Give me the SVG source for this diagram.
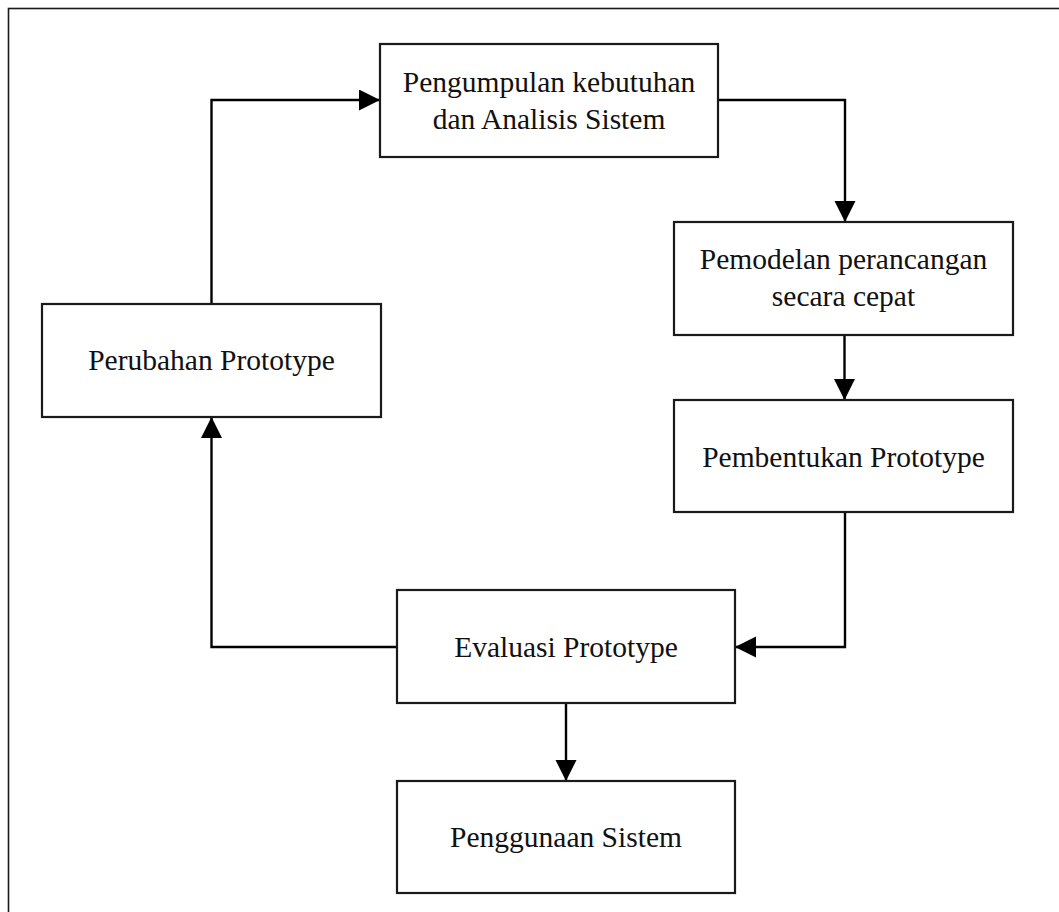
<svg xmlns="http://www.w3.org/2000/svg" width="1059" height="912" viewBox="0 0 1059 912">
<style>
.box{fill:#fff;stroke:#1a1a1a;stroke-width:2.2}
.lbl{font-family:"Liberation Serif","Times New Roman",serif;font-size:29.5px;fill:#111;text-anchor:middle}
.con{fill:none;stroke:#000;stroke-width:2.4;marker-end:url(#arr)}
</style>
<defs>
<marker id="arr" markerUnits="userSpaceOnUse" markerWidth="22" markerHeight="22" viewBox="0 0 22 22" refX="21" refY="10.5" orient="auto">
<path d="M0,0 L21,10.5 L0,21 Z" fill="#000"/>
</marker>
</defs>
<rect x="0" y="0" width="1059" height="912" fill="#fff"/>
<rect x="8.5" y="8.5" width="1080" height="940" fill="none" stroke="#1a1a1a" stroke-width="1.6"/>
<g id="connectors">
<path class="con" d="M211.5,304 V100 H380"/>
<path class="con" d="M718,100 H845 V222"/>
<path class="con" d="M844.5,335 V400"/>
<path class="con" d="M845,512 V647 H735"/>
<path class="con" d="M397,647 H211.5 V417"/>
<path class="con" d="M566,703 V781"/>
</g>
<g id="n1">
<rect class="box" x="380" y="44" width="338" height="113"/>
<text class="lbl" x="549" y="92">Pengumpulan kebutuhan</text>
<text class="lbl" x="549" y="129">dan Analisis Sistem</text>
</g>
<g id="n2">
<rect class="box" x="674" y="222" width="339" height="113"/>
<text class="lbl" x="843.5" y="269">Pemodelan perancangan</text>
<text class="lbl" x="843.5" y="306">secara cepat</text>
</g>
<g id="n3">
<rect class="box" x="674" y="400" width="339" height="112"/>
<text class="lbl" x="843.5" y="467">Pembentukan Prototype</text>
</g>
<g id="n4">
<rect class="box" x="42" y="304" width="339" height="113"/>
<text class="lbl" x="211.5" y="370">Perubahan Prototype</text>
</g>
<g id="n5">
<rect class="box" x="397" y="590" width="338" height="113"/>
<text class="lbl" x="566" y="657">Evaluasi Prototype</text>
</g>
<g id="n6">
<rect class="box" x="397" y="781" width="338" height="112"/>
<text class="lbl" x="566" y="847">Penggunaan Sistem</text>
</g>
</svg>
